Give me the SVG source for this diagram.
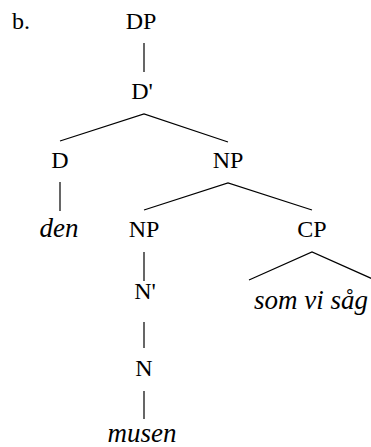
<svg xmlns="http://www.w3.org/2000/svg" width="371" height="447" viewBox="0 0 371 447">
<rect width="371" height="447" fill="#fff"/>
<text font-family="'Liberation Serif'" font-size="24" x="12" y="29">b.</text>
<g id="connectors" stroke="#000" stroke-width="1.2" fill="none">
<line x1="144" y1="43" x2="144" y2="72"/>
<polyline points="60,141 144,114 228,142"/>
<line x1="60" y1="182" x2="60" y2="211"/>
<polyline points="144,210 228,183 312,210"/>
<line x1="144" y1="252" x2="144" y2="281"/>
<polyline points="249,280 312,252 375,280"/>
<line x1="144" y1="322" x2="144" y2="348"/>
<line x1="144" y1="391" x2="144" y2="419"/>
</g>
<g id="DP"><text font-family="'Liberation Serif'" font-size="24" text-anchor="middle" x="141" y="29">DP</text></g>
<g id="Dbar"><text font-family="'Liberation Serif'" font-size="24" text-anchor="middle" x="142" y="99">D'</text></g>
<g id="D"><text font-family="'Liberation Serif'" font-size="24" text-anchor="middle" x="60" y="168">D</text></g>
<g id="NP1"><text font-family="'Liberation Serif'" font-size="24" text-anchor="middle" x="228" y="168">NP</text></g>
<g id="den"><text font-family="'Liberation Serif'" font-size="27" font-style="italic" text-anchor="middle" x="59" y="237">den</text></g>
<g id="NP2"><text font-family="'Liberation Serif'" font-size="24" text-anchor="middle" x="144" y="237">NP</text></g>
<g id="CP"><text font-family="'Liberation Serif'" font-size="24" text-anchor="middle" x="312" y="237">CP</text></g>
<g id="Nbar"><text font-family="'Liberation Serif'" font-size="24" text-anchor="middle" x="145" y="299">N'</text></g>
<g id="som"><text font-family="'Liberation Serif'" font-size="27" font-style="italic" text-anchor="middle" x="311" y="309">som vi såg</text></g>
<g id="N"><text font-family="'Liberation Serif'" font-size="24" text-anchor="middle" x="144" y="376">N</text></g>
<g id="musen"><text font-family="'Liberation Serif'" font-size="27" font-style="italic" text-anchor="middle" x="142" y="442">musen</text></g>
</svg>
